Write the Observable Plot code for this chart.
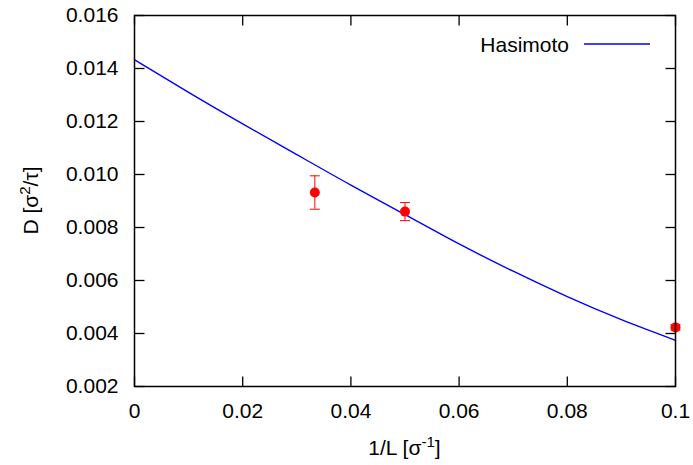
<!DOCTYPE html>
<html><head><meta charset="utf-8">
<script src="https://cdn.jsdelivr.net/npm/d3@7"></script>
<script src="https://cdn.jsdelivr.net/npm/@observablehq/plot@0.6"></script>
<style>
body{margin:0;background:#fff}
svg{font-family:"Liberation Sans",Arial,sans-serif}
</style>
</head><body><div id="chart"></div>
<script>
// Simulation data: diffusion coefficient vs inverse box length
const invL = [1/30, 0.05, 0.1];
const Dval = [0.00932, 0.00860, 0.00423];
const Derr = [0.00063, 0.00034, 0.00010];

// Hasimoto curve
const hasX = [0, 0.01, 0.02, 0.03, 0.04, 0.05, 0.06, 0.07, 0.08, 0.09, 0.1];
const hasD = [0.01433, 0.01310, 0.01191, 0.01075, 0.00960, 0.00849, 0.00738, 0.00635, 0.00539, 0.00452, 0.00374];

const xTicks = [0, 0.02, 0.04, 0.06, 0.08, 0.1];
const yTicks = [0.002, 0.004, 0.006, 0.008, 0.010, 0.012, 0.014, 0.016];
const xDomain = [0, 0.1];
const yDomain = [0.002, 0.016];
const legendLabel = "Hasimoto";

const points = invL.map((x, i) => ({x, y: Dval[i], lo: Dval[i] - Derr[i], hi: Dval[i] + Derr[i]}));
const curve = hasX.map((x, i) => ({x, y: hasD[i]}));

const TL = 10;
const sym = (x1, y1, x2, y2) => ({draw(ctx) { ctx.moveTo(x1, y1); ctx.lineTo(x2, y2); }});
const tickUp = sym(0, 0, 0, -TL), tickDown = sym(0, 0, 0, TL);
const tickRight = sym(0, 0, TL, 0), tickLeft = sym(0, 0, -TL, 0);
const cap = sym(-5, 0, 5, 0);

const FS = 21;
const plot = Plot.plot({
  width: 693, height: 465,
  marginTop: 15, marginRight: 18, marginBottom: 79, marginLeft: 134,
  x: {domain: xDomain},
  y: {domain: yDomain},
  style: {fontSize: FS + "px", fontFamily: "Liberation Sans, Arial, sans-serif", background: "#fff", color: "#000"},
  marks: [
    Plot.axisX(xTicks, {tickSize: 0, tickPadding: 17, tickFormat: d3.format("~g"), label: null, fontSize: FS}),
    Plot.axisY(yTicks, {tickSize: 0, tickPadding: 16, tickFormat: d3.format(".3f"), label: null, fontSize: FS}),
    Plot.dot(xTicks, {x: d => d, y: () => yDomain[0], symbol: tickUp, fill: "none", stroke: "black", strokeWidth: 1.3}),
    Plot.dot(xTicks, {x: d => d, y: () => yDomain[1], symbol: tickDown, fill: "none", stroke: "black", strokeWidth: 1.3}),
    Plot.dot(yTicks, {y: d => d, x: () => xDomain[0], symbol: tickRight, fill: "none", stroke: "black", strokeWidth: 1.3}),
    Plot.dot(yTicks, {y: d => d, x: () => xDomain[1], symbol: tickLeft, fill: "none", stroke: "black", strokeWidth: 1.3}),
    Plot.line(curve, {x: "x", y: "y", stroke: "#0000ff", strokeWidth: 1.4, curve: "natural"}),
    Plot.ruleX(points, {x: "x", y1: "lo", y2: "hi", stroke: "#ff0000", strokeWidth: 1}),
    Plot.dot(points, {x: "x", y: "lo", symbol: cap, fill: "none", stroke: "#ff0000", strokeWidth: 1}),
    Plot.dot(points, {x: "x", y: "hi", symbol: cap, fill: "none", stroke: "#ff0000", strokeWidth: 1}),
    Plot.dot(points, {x: "x", y: "y", r: 5, fill: "#ff0000", stroke: "none"}),
    Plot.frame({stroke: "black", strokeWidth: 1.5})
  ]
});

const svg = d3.select(plot);
// Legend
svg.append("text").attr("x", 569).attr("y", 51.5).attr("text-anchor", "end")
  .attr("font-size", FS).attr("fill", "black").text(legendLabel);
svg.append("line").attr("x1", 584).attr("x2", 650).attr("y1", 44).attr("y2", 44)
  .attr("stroke", "#0000ff").attr("stroke-width", 1.4);

// Axis titles with superscripts
const xl = svg.append("text").attr("x", 404.5).attr("y", 455).attr("text-anchor", "middle")
  .attr("font-size", FS).attr("fill", "black");
xl.append("tspan").text("1/L [σ");
xl.append("tspan").attr("dy", -8).attr("font-size", FS * 0.72).text("-1");
xl.append("tspan").attr("dy", 8).text("]");

const yl = svg.append("text").attr("transform", "translate(38,200.5) rotate(-90)").attr("text-anchor", "middle")
  .attr("font-size", FS).attr("fill", "black");
yl.append("tspan").text("D [σ");
yl.append("tspan").attr("dy", -8).attr("font-size", FS * 0.72).text("2");
yl.append("tspan").attr("dy", 8).text("/τ]");

document.getElementById("chart").appendChild(plot);
</script>
</body></html>
